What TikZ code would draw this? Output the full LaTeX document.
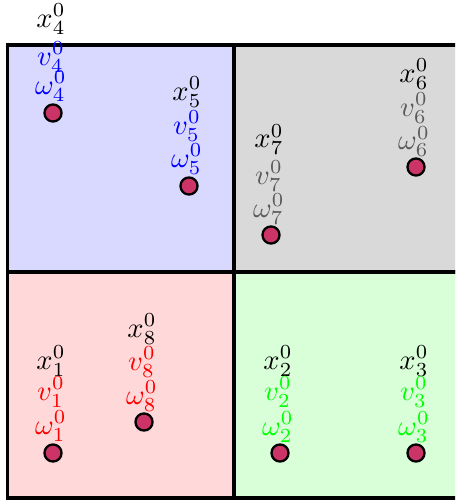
\documentclass[tikz,border=0pt]{standalone}
\definecolor{dotc}{RGB}{204,51,102}
\definecolor{gtext}{RGB}{90,90,90}
\tikzset{
  cell/.style={line width=1.1pt},
  pt/.style={circle, draw=black, line width=0.8pt, fill=dotc, minimum size=6pt, inner sep=0pt},
  lab/.style={inner sep=0pt, anchor=center}
}
\begin{document}
\begin{tikzpicture}[x=0.351pt,y=-0.351pt]
\useasboundingbox (0,0) rectangle (455,501);
\begin{scope}
\clip (0,0) rectangle (455,501);
\filldraw[cell, fill=blue!15] (7.5,45) rectangle (234,272);
\filldraw[cell, fill=black!15] (234,45) rectangle (461,272);
\filldraw[cell, fill=red!15] (7.5,272) rectangle (234,498);
\filldraw[cell, fill=green!15] (234,272) rectangle (461,498);
\end{scope}
\foreach \n/\dx/\dy/\xy/\vy/\wy/\c in {
  4/53/113/19/57/86/blue,
  5/189/186/92/126/159/blue,
  7/271/235/139.5/176/209/gtext,
  6/416/167/74/108/141.5/gtext,
  1/53/453/361/392/426/red,
  8/144/422/329/362/396/red,
  2/280/453/361/392/427/green,
  3/416/453/361/392/427/green} {
  \node[pt] (d\n) at (\dx,\dy) {};
  \node[lab] (x\n) at (\dx-2,\xy) {$x^0_{\n}$};
  \node[lab, text=\c] (v\n) at (\dx-2,\vy) {$v^0_{\n}$};
  \node[lab, text=\c] (w\n) at (\dx-2,\wy) {$\omega^0_{\n}$};
}
\end{tikzpicture}
\end{document}
